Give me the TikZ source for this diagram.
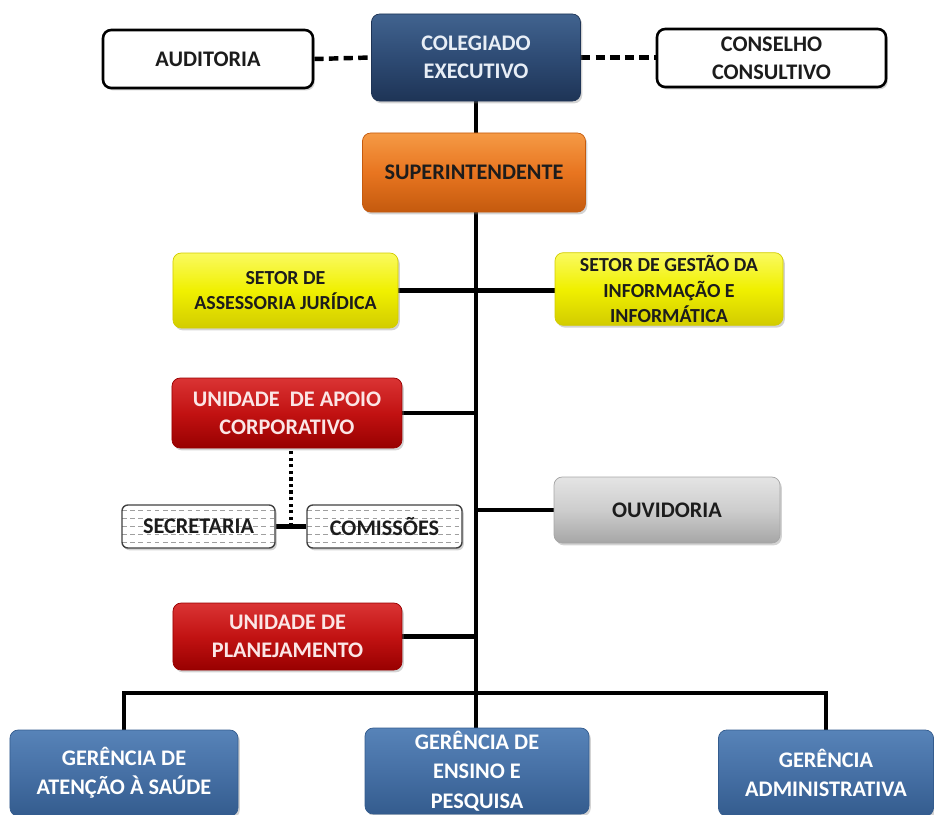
\documentclass[tikz,border=0pt]{standalone}
\usepackage{fontspec}
\setmainfont{Carlito}
\usetikzlibrary{shadows,calc,backgrounds}

% box palette
\definecolor{navyT}{HTML}{41638F}
\definecolor{navyM}{HTML}{2E4B74}
\definecolor{navyB}{HTML}{1E3456}
\definecolor{steelT}{HTML}{5783B8}
\definecolor{steelM}{HTML}{4670A5}
\definecolor{steelB}{HTML}{345C8E}
\definecolor{orangeT}{HTML}{F59A45}
\definecolor{orangeM}{HTML}{E87520}
\definecolor{orangeB}{HTML}{C45A0E}
\definecolor{yellowT}{HTML}{FAFA60}
\definecolor{yellowM}{HTML}{F0F000}
\definecolor{yellowB}{HTML}{D2CC00}
\definecolor{redT}{HTML}{DA3434}
\definecolor{redM}{HTML}{C21212}
\definecolor{redB}{HTML}{980000}
\definecolor{greyT}{HTML}{E4E4E4}
\definecolor{greyM}{HTML}{CDCDCD}
\definecolor{greyB}{HTML}{A6A6A6}
\definecolor{lighttext}{HTML}{E8EEF6}
\definecolor{pinktext}{HTML}{FBE6E6}
\definecolor{darktext}{HTML}{1C1C1C}

\begin{document}
\begin{tikzpicture}[x=0.03cm,y=-0.03cm,
  box/.style={rounded corners=7pt, align=center, inner sep=2pt,
    font=\bfseries\fontsize{19}{24}\selectfont,
    drop shadow={opacity=0.35, shadow xshift=1.5pt, shadow yshift=-2pt}},
  plainbox/.style={box, draw=black, line width=2.2pt, fill=white, text=darktext},
  navybox/.style={box, top color=navyT, bottom color=navyB, middle color=navyM,
    draw=navyB, line width=0.6pt, text=lighttext},
  steelbox/.style={box, top color=steelT, bottom color=steelB, middle color=steelM,
    draw=steelB, line width=0.6pt, text=white, font=\bfseries\fontsize{19}{25}\selectfont},
  orangebox/.style={box, top color=orangeT, bottom color=orangeB, middle color=orangeM,
    draw=orangeB, line width=0.6pt, text=darktext},
  yellowbox/.style={box, top color=yellowT, bottom color=yellowB, middle color=yellowM,
    draw=yellowB, line width=0.6pt, text=darktext, font=\bfseries\fontsize{17}{22}\selectfont},
  redbox/.style={box, top color=redT, bottom color=redB, middle color=redM,
    draw=redB, line width=0.6pt, text=pinktext},
  greybox/.style={box, top color=greyT, bottom color=greyB, middle color=greyM,
    draw=greyB, line width=0.6pt, text=darktext},
  hatchbox/.style={box, rounded corners=5pt, draw=black!75, line width=1.2pt, fill=white,
    text=darktext,
    path picture={
      \foreach \f in {0.12,0.31,0.5,0.69,0.88}
        \draw[gray!75, line width=0.8pt, dash pattern=on 4pt off 3pt]
          ($(path picture bounding box.south west)!\f!(path picture bounding box.north west)$) --
          ($(path picture bounding box.south east)!\f!(path picture bounding box.north east)$);}},
  link/.style={line width=3.8pt, draw=black},
  dashlink/.style={line width=3.8pt, draw=black, dash pattern=on 8pt off 4.5pt},
  dotlink/.style={line width=3.4pt, draw=black, dash pattern=on 2.8pt off 2.8pt}
]
\useasboundingbox (0,0) rectangle (934,814);
\clip (0,0) rectangle (934,814);

% top row
\node[plainbox, minimum width=6.3cm, minimum height=1.74cm] (aud) at (208,59) {AUDITORIA};
\node[navybox, minimum width=6.27cm, minimum height=2.61cm] (col) at (476,57.5) {COLEGIADO\\EXECUTIVO};
\node[plainbox, minimum width=6.87cm, minimum height=1.74cm] (con) at (771.5,58) {CONSELHO\\CONSULTIVO};

% superintendence and staff sectors
\node[orangebox, minimum width=6.69cm, minimum height=2.37cm] (sup) at (474,172.5) {SUPERINTENDENTE};
\node[yellowbox, minimum width=6.75cm, minimum height=2.25cm] (ass) at (285.5,290.5) {SETOR DE\\ASSESSORIA JURÍDICA};
\node[yellowbox, minimum width=6.84cm, minimum height=2.16cm] (ges) at (669,289) {SETOR DE GESTÃO DA\\INFORMAÇÃO E\\INFORMÁTICA};

% support units
\node[redbox, minimum width=6.9cm, minimum height=2.1cm] (apo) at (287,413) {UNIDADE~ DE APOIO\\CORPORATIVO};
\node[hatchbox, minimum width=4.59cm, minimum height=1.29cm] (sec) at (198.5,526.5) {SECRETARIA};
\node[hatchbox, minimum width=4.65cm, minimum height=1.29cm] (com) at (384.5,526.5) {COMISSÕES};
\node[greybox, minimum width=6.78cm, minimum height=1.98cm] (ouv) at (667,510) {OUVIDORIA};
\node[redbox, minimum width=6.87cm, minimum height=2.01cm] (pla) at (287.5,636.5) {UNIDADE DE\\PLANEJAMENTO};

% managements
\node[steelbox, minimum width=6.84cm, minimum height=2.58cm] (ate) at (124,773) {GERÊNCIA DE\\ATENÇÃO À SAÚDE};
\node[steelbox, minimum width=6.72cm, minimum height=2.58cm] (ens) at (477,771) {GERÊNCIA DE\\ENSINO E\\PESQUISA};
\node[steelbox, minimum width=6.45cm, minimum height=2.58cm] (adm) at (826,773) {GERÊNCIA\\ADMINISTRATIVA};

\coordinate (bus) at (476,693);
\coordinate (mid) at ($(sec.east)!0.5!(com.west)$);

\begin{scope}[on background layer]
  \draw[dashlink] (aud.east) -- (col.west);
  \draw[dashlink] (col.east) -- (con.west |- col.east);
  \draw[link] (col.south) -- (col.south |- ens.north);
  \draw[link] (ass.east) -- (ass.east -| ges.west);
  \draw[link] (apo.east) -- (apo.east -| col.south);
  \draw[link] (ouv.west) -- (ouv.west -| col.south);
  \draw[link] (pla.east) -- (pla.east -| col.south);
  \draw[link] (sec.east) -- (com.west);
  \draw[dotlink] (mid) -- (mid |- apo.south);
  \draw[link] (ate.north) |- (bus) -| (adm.north);
\end{scope}
\end{tikzpicture}
\end{document}
